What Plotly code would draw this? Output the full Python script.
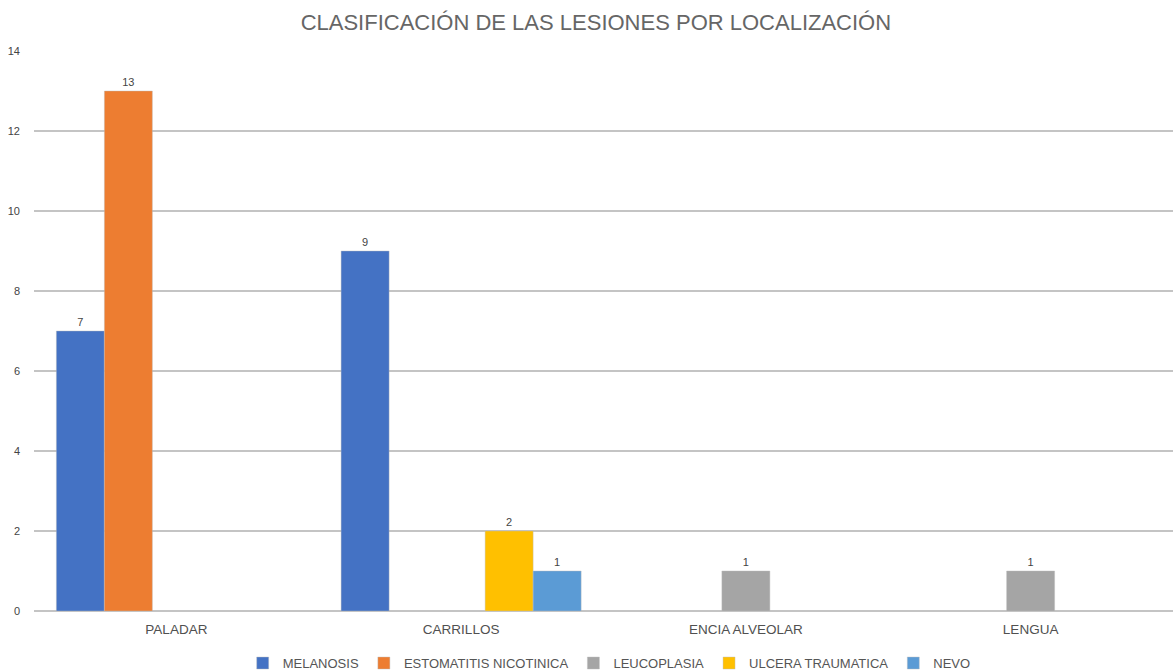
import plotly.graph_objects as go

categories = ["PALADAR", "CARRILLOS", "ENCIA ALVEOLAR", "LENGUA"]
series_names = ["MELANOSIS", "ESTOMATITIS NICOTINICA", "LEUCOPLASIA", "ULCERA TRAUMATICA", "NEVO"]
melanosis = [7, 9, None, None]
estomatitis = [13, None, None, None]
leucoplasia = [None, None, 1, 1]
ulcera = [None, 2, None, None]
nevo = [None, 1, None, None]
colors = ["#4472C4", "#ED7D31", "#A5A5A5", "#FFC000", "#5B9BD5"]
y_ticks = [0, 2, 4, 6, 8, 10, 12, 14]

FONT = "Liberation Sans, Arial"

fig = go.Figure()
for name, vals, col in zip(series_names, [melanosis, estomatitis, leucoplasia, ulcera, nevo], colors):
    fig.add_trace(go.Bar(
        x=categories, y=vals, name=name,
        marker=dict(color=col, line=dict(color="rgba(190,190,190,0.7)", width=0.6)),
        text=[str(v) if v is not None else "" for v in vals],
        textposition="outside",
        textfont=dict(family=FONT, size=11, color="#444444"),
        cliponaxis=False,
    ))

fig.update_layout(
    width=1173, height=672,
    barmode="group", bargap=0.157, bargroupgap=0,
    paper_bgcolor="white", plot_bgcolor="white",
    margin=dict(l=34, r=0, t=51, b=61, autoexpand=False),
    title=dict(text="CLASIFICACIÓN DE LAS LESIONES POR LOCALIZACIÓN",
               x=0.508, xanchor="center", y=0.967, yanchor="middle",
               font=dict(family=FONT, size=22, color="#666666")),
    font=dict(family=FONT, size=11, color="#444444"),
    xaxis=dict(showgrid=False, showline=False, ticks="", automargin=False,
               tickfont=dict(size=13.5, color="#505050"), ticklabelstandoff=8),
    yaxis=dict(range=[0, 14], tickvals=y_ticks, showgrid=True, gridcolor="#c4c4c4", gridwidth=2,
               zeroline=True, zerolinecolor="#c4c4c4", zerolinewidth=2, automargin=False,
               tickfont=dict(size=11, color="#444444"), ticklabelstandoff=13),
    legend=dict(orientation="h", x=0.505, xanchor="center", y=-0.093, yanchor="middle",
                font=dict(size=13, color="#555555"), itemwidth=30, traceorder="normal"),
    showlegend=True,
)

fig.write_html("out.html", config={"displayModeBar": False},
               post_script="document.body.style.margin='0';document.body.style.padding='0';")
